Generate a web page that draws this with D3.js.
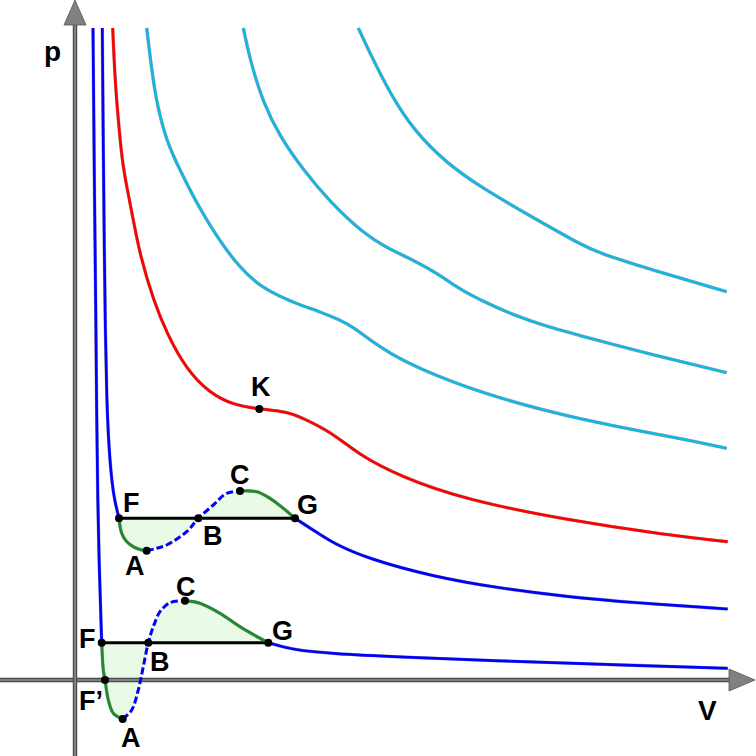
<!DOCTYPE html>
<html><head><meta charset="utf-8">
<script src="https://cdn.jsdelivr.net/npm/d3@7"></script>
<style>html,body{margin:0;padding:0;background:#fff;}svg{display:block;}</style>
</head><body>
<svg id="c" width="756" height="756"></svg>
<script>
// Data: [V, p] pairs (V and p in arbitrary units, origin at axes crossing)
// Low isotherm (bottom, blue)
const lowLeft  = [[19,652],[20.5,480],[21.7,380],[22.7,260],[23.7,180],[25.3,110],[27.7,37.3]];
const lowGreenA= [[27.7,37.3],[29.3,10],[31,0],[34.3,-20],[39.3,-33.3],[48.7,-39]];
const lowDash  = [[48.7,-39],[57.7,-30],[64.3,-10],[69.3,13.3],[74.3,37.3],[79.3,53.3],[86,68.3],[96,77.3],[111,79.3]];
const lowGreenC= [[111,79.3],[126,76.7],[146,66.7],[166,53.3],[186,41.7],[194.3,37.3]];
const lowRight = [[194.3,37.3],[211,32.5],[226,29.5],[256,26.5],[326,23],[426,19],[526,15.7],[653.7,11.7]];
// Middle isotherm (blue)
const midLeft  = [[28.3,652],[29.3,530],[30.3,430],[31.3,350],[32.7,280],[35,230],[38,197],[40.5,180],[45,161.7]];
const midGreenA= [[45,161.7],[47.7,146.7],[52.7,138.3],[59.3,133.3],[67.7,130],[72.7,129.3]];
const midDash  = [[72.7,129.3],[82.7,131.7],[92.7,135],[112.7,148.3],[124.3,161.7],[139.3,175],[152.7,186.7],[166,189]];
const midGreenC= [[166,189],[182.7,188.3],[196,181.7],[209.3,171.7],[221,161.7]];
const midRight = [[221,161.7],[239.3,150],[259.3,136.7],[292.7,121.7],[359.3,103.3],[426,91.7],[492.7,83.3],[559.3,77.3],[653.7,71]];
// Critical isotherm (red)
const critical = [[38.7,652],[41,600],[44.3,560],[48,520],[52.7,493.3],[59.3,460],[66,425],[79.3,380],[92.7,346.7],[112.7,310],[136,286.7],[159.3,275],[185.3,271],[212.7,268.3],[226,263.3],[259.3,246.7],[282.7,226.7],[326,203.3],[392.7,180],[492.7,160],[592.7,145],[653.7,138.3]];
// Hotter isotherms (cyan)
const hot1 = [[72.7,652],[77.7,610],[82.7,576.7],[92.7,538],[106,510],[122.7,476.7],[142.7,443.3],[166,411.7],[186,394],[206,383.3],[226,375],[246,368.3],[266,360],[279.3,352.7],[296,340],[316,326.7],[339.3,314],[406,286.7],[506,260],[606,241.7],[652.7,231.7]];
const hot2 = [[169.3,652],[176,620],[189.3,576.7],[206,543.3],[229.3,510],[256,478],[289.3,446.7],[312.7,432],[339.3,420],[366,405],[382.7,392.7],[406,380],[439.3,365],[472.7,353.3],[522.7,340],[572.7,326.7],[652.7,307.3]];
const hot3 = [[284.3,652],[296,626.7],[316,586.7],[339.3,550],[372.7,516.7],[406,493.3],[456,464],[506,436],[522.7,427.5],[589.3,406.7],[652.7,388.3]];
// Labelled points
const pointNames = ["F","F’","A","B","C","G","F","A","B","C","G","K"];
const pointVals  = [[27.7,37.3],[31,0],[48.7,-39],[74.3,37.3],[111,79.3],[194.3,37.3],[45,161.7],[72.7,129.3],[124.3,161.7],[166,189],[221,161.7],[185.3,271]];
const labelVals  = [[5,32],[5,-30],[47,-67],[76,9],[102,84],[198,40],[49,168],[51,105],[129,135],[156,196],[223,166],[177,284]];
const axisLabels = ["p","V"];

const W = 756, H = 756;
const x = d3.scaleLinear().domain([0, 680]).range([74, 754]);
const y = d3.scaleLinear().domain([0, 680]).range([680, 0]);
const svg = d3.select("#c");
const line = d3.line().x(d => x(d[0])).y(d => y(d[1])).curve(d3.curveCatmullRom.alpha(0.5));
const smooth = d3.line().x(d => x(d[0])).y(d => y(d[1])).curve(d3.curveBasis);

const BLUE = "#0000ff", RED = "#ff0000", CYAN = "#16b6e2", GREEN = "#1f8a2a", FILL = "#e9fbe6";

// fills
[[lowGreenA, lowDash, lowGreenC], [midGreenA, midDash, midGreenC]].forEach(parts => {
  const pts = parts[0].concat(parts[1].slice(1), parts[2].slice(1));
  svg.append("path").attr("d", line(pts) + "Z").attr("fill", FILL).attr("stroke", "none");
});

// axes
const axisG = svg.append("g");
function axLine(x1, y1, x2, y2) {
  axisG.append("line").attr("x1", x1).attr("x2", x2).attr("y1", y1).attr("y2", y2)
    .attr("stroke", "#3a3a3a").attr("stroke-width", 4.4);
  axisG.append("line").attr("x1", x1).attr("x2", x2).attr("y1", y1).attr("y2", y2)
    .attr("stroke", "#808080").attr("stroke-width", 2.6);
}
axLine(0, y(0), x(656), y(0));
axLine(x(0) + 1, H, x(0) + 1, y(656));
axisG.append("path").attr("d", `M${x(0)-10},${y(655)}L${x(0)+1},${y(680)}L${x(0)+12},${y(655)}Z`)
  .attr("fill", "#808080").attr("stroke", "#555").attr("stroke-width", 0.8);
axisG.append("path").attr("d", `M${x(655)},${y(0)-11}L${x(681)},${y(0)}L${x(655)},${y(0)+11}Z`)
  .attr("fill", "#808080").attr("stroke", "#555").attr("stroke-width", 0.8);

function curve(pts, color, gen) {
  const g = gen || line;
  svg.append("path").attr("d", g(pts)).attr("fill", "none")
    .attr("stroke", "#000").attr("stroke-width", 3.4).attr("stroke-opacity", 0.35);
  svg.append("path").attr("d", g(pts)).attr("fill", "none")
    .attr("stroke", color).attr("stroke-width", 2.7);
}
[hot3, hot2, hot1].forEach(c => curve(c, CYAN, smooth));
curve(critical, RED, smooth);
curve(midLeft, BLUE, smooth); curve(midRight, BLUE, smooth);
curve(lowLeft, BLUE, smooth); curve(lowRight, BLUE, smooth);

// horizontal tie lines
[[lowGreenA[0], lowGreenC[lowGreenC.length-1]], [midGreenA[0], midGreenC[midGreenC.length-1]]].forEach(([a, b]) => {
  svg.append("line").attr("x1", x(a[0])).attr("x2", x(b[0])).attr("y1", y(a[1])).attr("y2", y(b[1]))
    .attr("stroke", "#000").attr("stroke-width", 3);
});
curve(lowGreenA, GREEN); curve(lowGreenC, GREEN);
curve(midGreenA, GREEN); curve(midGreenC, GREEN);
[lowDash, midDash].forEach(d => {
  svg.append("path").attr("d", line(d)).attr("fill", "none").attr("stroke", BLUE)
    .attr("stroke-width", 3).attr("stroke-dasharray", "7,3");
});

// points
svg.selectAll("circle.pt").data(pointVals).join("circle").attr("class", "pt")
  .attr("cx", d => x(d[0])).attr("cy", d => y(d[1])).attr("r", 4).attr("fill", "#000");

const font = "'Liberation Sans', Arial, sans-serif";
svg.selectAll("text.pl").data(pointNames).join("text").attr("class", "pl")
  .attr("x", (d, i) => x(labelVals[i][0])).attr("y", (d, i) => y(labelVals[i][1]))
  .attr("font-family", font).attr("font-size", 27).attr("font-weight", "bold")
  .attr("fill", "#000").text(d => d);

svg.append("text").attr("x", 44).attr("y", 61).attr("font-family", font).attr("font-size", 28)
  .attr("font-weight", "bold").text(axisLabels[0]);
svg.append("text").attr("x", 698).attr("y", 720).attr("font-family", font).attr("font-size", 28)
  .attr("font-weight", "bold").text(axisLabels[1]);
</script>
</body></html>
